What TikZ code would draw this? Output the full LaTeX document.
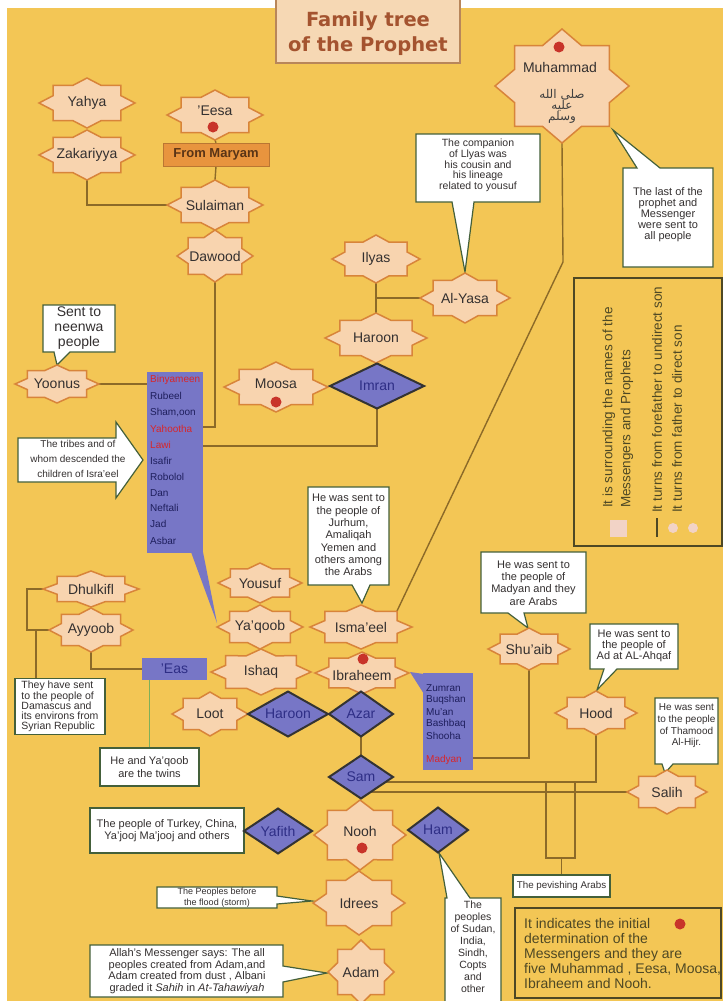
\documentclass[tikz,border=0pt]{standalone}
\usepackage{fontspec}
\setmainfont{Liberation Sans}
\newfontfamily\titlefont{DejaVu Sans}
\newfontfamily\arabicfont[Script=Arabic]{DejaVu Sans}
\TeXXeTstate=1
\usetikzlibrary{shapes.geometric,calc}
\definecolor{bgyellow}{HTML}{F3C655}
\definecolor{starfill}{HTML}{F8D4AF}
\definecolor{stardraw}{HTML}{D8843A}
\definecolor{purp}{HTML}{7776C6}
\definecolor{purptext}{HTML}{2E2E86}
\definecolor{navy}{HTML}{1E1E5C}
\definecolor{linec}{HTML}{8C6A28}
\definecolor{callb}{HTML}{44603A}
\definecolor{txt}{HTML}{343030}
\definecolor{dotred}{HTML}{C8342A}
\definecolor{titlec}{HTML}{A4532F}
\definecolor{titlefill}{HTML}{F6D8B4}
\definecolor{titledraw}{HTML}{B8865A}
\definecolor{olive}{HTML}{4E4824}
\definecolor{paleP}{HTML}{F2D3C6}
\definecolor{maryfill}{HTML}{E8943E}
\definecolor{marytext}{HTML}{5A3416}
\definecolor{greenl}{HTML}{7DB05A}
\definecolor{redt}{HTML}{D8262A}
\pgfdeclarelayer{bgl}\pgfdeclarelayer{linel}\pgfsetlayers{bgl,linel,main}
\tikzset{
  starline/.style={fill=starfill, draw=stardraw, line width=1.5pt, line join=miter},
  anchorshape/.style={shape=diamond, draw=none, inner sep=0pt, outer sep=0pt},
  startext/.style={text=txt, font=\fontsize{14}{16}\selectfont, inner sep=0pt},
  diamshape/.style={shape=diamond, fill=purp, draw=black!80, line width=2pt, inner sep=0pt, outer sep=0pt},
  diamtext/.style={text=purptext, font=\fontsize{14}{16}\selectfont, inner sep=0pt},
  conn/.style={draw=linec, line width=1.4pt},
  callout/.style={fill=white, draw=callb, line width=1.2pt, line join=miter},
  calltext/.style={text=txt, align=center, inner sep=0pt},
  reddot/.style={circle, fill=dotred, inner sep=0pt, minimum size=11pt},
  purpbox/.style={fill=purp, draw=none, inner sep=0pt, outer sep=0pt},
  listtext/.style={text=navy, font=\fontsize{10}{12}\selectfont, inner sep=0pt, anchor=west},
  legtext/.style={text=olive, rotate=90, anchor=west, inner sep=0pt, font=\fontsize{13.5}{15}\selectfont},
}
\newcommand{\pstar}[6]{%
  \draw[starline] plot[samples at={0,22.5,...,337.5}, variable=\t] ({#2+#4*(0.8825+0.1175*cos(8*\t))*cos(\t)}, {#3+#5*(0.8825+0.1175*cos(8*\t))*sin(\t)}) -- cycle;
  \node[anchorshape, minimum width={2*#4}, minimum height={2*#5}] (#1) at (#2,#3) {};
  \node[startext] (#1-t) at (#2,#3) {#6};
}
\newcommand{\pdiam}[6]{%
  \node[diamshape, minimum width={2*#4}, minimum height={2*#5}] (#1) at (#2,#3) {};
  \node[diamtext] (#1-t) at (#1) {#6};
}
\begin{document}
\begin{tikzpicture}[x=1pt,y=-1pt]
\useasboundingbox (0,0) rectangle (723,1001);
\begin{pgfonlayer}{bgl}
\fill[white] (0,0) rectangle (723,1001);
\fill[bgyellow] (7,8) rectangle (723,1001);
\end{pgfonlayer}

% title
\draw[fill=titlefill, draw=titledraw, line width=1.5pt] (276,-5) rectangle (460,63);
\node[text=titlec, font=\titlefont\bfseries\fontsize{19.5}{25}\selectfont, align=center, inner sep=0pt] (title) at (368,33.5) {Family tree\\of the Prophet};

% callouts
\draw[callout] (43,305) -- (115,305) -- (115,352) -- (70,352) -- (57,365) -- (54,352) -- (43,352) -- cycle;
\node[calltext, font=\fontsize{14}{14.7}\selectfont] (c-neen) at (79,328) {Sent to\\neenwa\\people};

\draw[callout] (416,134) -- (540,134) -- (540,202) -- (474,202) -- (465,272) -- (452,202) -- (416,202) -- cycle;
\node[calltext, font=\fontsize{10.5}{10.7}\selectfont] (c-comp) at (478,165.5) {The companion\\of Llyas was\\his cousin and\\his lineage\\related to yousuf};

\draw[callout] (623,168) -- (637,168) -- (613,130) -- (660,168) -- (713,168) -- (713,267) -- (623,267) -- cycle;
\node[calltext, font=\fontsize{11}{11}\selectfont] (c-last) at (668,215) {The last of the\\prophet and\\Messenger\\were sent to\\all people};

\draw[callout] (308,487) -- (389,487) -- (389,585) -- (370,585) -- (362,603) -- (352,585) -- (308,585) -- cycle;
\node[calltext, font=\fontsize{11}{12.3}\selectfont] (c-jur) at (348.5,535) {He was sent to\\the people of\\Jurhum,\\Amaliqah\\Yemen and\\others among\\the Arabs};

\draw[callout] (481,552) -- (586,552) -- (586,613) -- (524,613) -- (528,628) -- (508,613) -- (481,613) -- cycle;
\node[calltext, font=\fontsize{11}{12.2}\selectfont] (c-mad) at (533.5,583) {He was sent to\\the people of\\Madyan and they\\are Arabs};

\draw[callout] (590,624) -- (678,624) -- (678,669) -- (617,669) -- (597,690) -- (604,669) -- (590,669) -- cycle;
\node[calltext, font=\fontsize{11}{11}\selectfont] (c-ad) at (634,646) {He was sent to\\the people of\\Ad at AL-Ahqaf};

\draw[callout] (655,698) -- (718,698) -- (718,764) -- (673,764) -- (665,773) -- (662,764) -- (655,764) -- cycle;
\node[calltext, font=\fontsize{10}{11.7}\selectfont] (c-tham) at (686.5,726) {He was sent\\to the people\\of Thamood\\Al-Hijr.};

\node[callout, minimum width=90pt, minimum height=54pt, inner sep=2.5pt, align=left, text=txt, font=\fontsize{10.5}{10.2}\selectfont] (c-dam) at (60,706.5) {They have sent\\to the people of\\Damascus and\\its environs from\\Syrian Republic};

\node[callout, minimum width=99pt, minimum height=38pt, inner sep=0pt, align=center, text=txt, font=\fontsize{11}{13}\selectfont] (twins) at (149.5,767) {He and Ya'qoob\\are the twins};

\node[callout, minimum width=154pt, minimum height=45pt, inner sep=0pt, align=center, text=txt, font=\fontsize{11}{12}\selectfont] (c-turk) at (167,830.5) {The people of Turkey, China,\\Ya'jooj Ma'jooj and others};

\draw[callout] (157,887) -- (277,887) -- (277,896) -- (312,901) -- (277,904) -- (277,908) -- (157,908) -- cycle;
\node[calltext, font=\fontsize{9}{10.5}\selectfont] (c-flood) at (217,897.5) {The Peoples before\\the flood (storm)};

\draw[callout] (90,945) -- (283,945) -- (283,966) -- (327,973) -- (283,982) -- (283,997) -- (90,997) -- cycle;
\node[calltext, font=\fontsize{11}{11.7}\selectfont] (c-allah) at (187,971) {Allah's Messenger says: The all\\peoples created from Adam,and\\Adam created from dust , Albani\\graded it \textit{Sahih} in \textit{At-Tahawiyah}};

\draw[callout] (445,898) -- (447,898) -- (439,853) -- (470,898) -- (501,898) -- (501,1012) -- (445,1012) -- cycle;
\node[calltext, font=\fontsize{10.5}{12}\selectfont, anchor=north] (c-ham) at (473,901) {The\\peoples\\of Sudan,\\India,\\Sindh,\\Copts\\and\\other};

\node[callout, minimum width=97pt, minimum height=22pt, inner sep=0pt, text=txt, font=\fontsize{9.8}{11}\selectfont] (pevish) at (561.5,886) {The pevishing Arabs};

\draw[callout] (18,438) -- (116,438) -- (116,422) -- (143,460) -- (116,498) -- (116,482) -- (18,482) -- cycle;
\node[calltext, font=\fontsize{10}{15}\selectfont] (c-arrow) at (78,459) {The tribes and of\\whom descended the\\children of Isra'eel};

% legend
\draw[draw=olive, line width=1.2pt] (574,278) rectangle (722,546);
\node[legtext] (lg1) at (609,508) {It is surrounding the names of the};
\node[legtext] (lg2) at (627,508) {Messengers and Prophets};
\node[legtext] (lg3) at (657,513) {It turns from forefather to undirect son};
\node[legtext] (lg4) at (677,513) {It turns from father to direct son};
\fill[paleP] (610,520) rectangle (627,537);
\draw[olive, line width=1.2pt] (657,518) -- (657,537);
\fill[paleP] (673,528) circle (5);
\fill[paleP] (693,528) circle (5);

% note
\draw[draw=olive, line width=1.5pt] (515,908) rectangle (721,998);
\node[text=olive, align=left, anchor=west, inner sep=0pt, font=\fontsize{14}{15}\selectfont] (note) at (524,953) {It indicates the initial\\determination of the\\Messengers and they are\\five Muhammad , Eesa, Moosa,\\Ibraheem and Nooh.};
\node[reddot] (note-d) at (680,924) {};

% boxes
\node[fill=maryfill, draw=maryfill!80!black, line width=0.6pt, minimum width=106pt, minimum height=23pt, inner sep=0pt, text=marytext, font=\bfseries\fontsize{13}{15}\selectfont] (maryam) at (216,154.5) {From Maryam};

\node[purpbox, minimum width=56pt, minimum height=181pt] (tribes) at (175,462.5) {};
\fill[purp] (191,552) -- (203,552) -- (217,623) -- cycle;
\node[listtext, text=redt] (tr1) at (150,380) {Binyameen};
\node[listtext] (tr2) at (150,396) {Rubeel};
\node[listtext] (tr3) at (150,413) {Sham,oon};
\node[listtext, text=redt] (tr4) at (150,429) {Yahootha};
\node[listtext, text=redt] (tr5) at (150,445) {Lawi};
\node[listtext] (tr6) at (150,461) {Isafir};
\node[listtext] (tr7) at (150,477) {Robolol};
\node[listtext] (tr8) at (150,493) {Dan};
\node[listtext] (tr9) at (150,508) {Neftali};
\node[listtext] (tr10) at (150,524) {Jad};
\node[listtext] (tr11) at (150,541) {Asbar};

\node[purpbox, minimum width=65pt, minimum height=22pt, text=purptext, font=\fontsize{14}{16}\selectfont] (eas) at (174.5,669) {'Eas};

\node[purpbox, minimum width=50pt, minimum height=97pt] (muan) at (448,721.5) {};
\fill[purp] (410,672) -- (424,674) -- (424,694) -- cycle;
\node[listtext] (mu1) at (426,688) {Zumran};
\node[listtext] (mu2) at (426,700) {Buqshan};
\node[listtext] (mu3) at (426,712) {Mu'an};
\node[listtext] (mu4) at (426,724) {Bashbaq};
\node[listtext] (mu5) at (426,736) {Shooha};
\node[listtext, text=redt] (mu6) at (426,760) {Madyan};

% stars
\pstar{yahya}{87}{103}{48}{25}{Yahya}
\pstar{zak}{87}{155}{48}{25}{Zakariyya}
\pstar{eesa}{215}{115}{48}{25}{}
\node[startext] (eesa-l) at (215,111) {'Eesa};
\node[reddot] (eesa-d) at (213,127) {};
\pstar{sul}{215}{205}{48}{25}{Sulaiman}
\pstar{daw}{215}{256}{38}{26}{Dawood}
\pstar{muh}{562}{86}{67}{57}{}
\node[startext] (muh-l) at (560,67) {Muhammad};
\node[reddot] (muh-d) at (559,47) {};
\node[text=black!75, font=\arabicfont\fontsize{12}{11}\selectfont, align=center, inner sep=0pt] (muh-ar) at (562,106) {\beginR صلى الله\endR\\\beginR عليه\endR\\\beginR وسلم\endR};
\pstar{ilyas}{376}{259}{44}{24}{Ilyas}
\pstar{alyasa}{465}{298}{45}{25}{Al-Yasa}
\pstar{haroonA}{376}{338}{51}{25}{Haroon}
\pstar{moosa}{276}{387}{52}{25}{}
\node[startext] (moosa-l) at (276,384) {Moosa};
\node[reddot] (moosa-d) at (276,402) {};
\pstar{yoonus}{57}{384}{42}{19}{Yoonus}
\pstar{yousuf}{260}{583}{42}{20}{Yousuf}
\pstar{yaqoob}{260}{627}{43}{22}{Ya'qoob}
\pstar{ishaq}{261}{672}{50}{23}{Ishaq}
\pstar{isma}{361}{627}{51}{22}{Isma'eel}
\pstar{ibra}{362}{673}{47}{21}{}
\node[startext] (ibra-l) at (362,675) {Ibraheem};
\node[reddot] (ibra-d) at (363,659) {};
\pstar{dhul}{91}{589}{48}{18}{Dhulkifl}
\pstar{ayy}{91}{630}{42}{22}{Ayyoob}
\pstar{loot}{210}{714}{38}{22}{Loot}
\pstar{shuaib}{529}{649}{41}{21}{Shu'aib}
\pstar{hood}{596}{713}{41}{22}{Hood}
\pstar{salih}{667}{792}{40}{22}{Salih}
\pstar{nooh}{360}{835}{46}{35}{}
\node[startext] (nooh-l) at (360,831) {Nooh};
\node[reddot] (nooh-d) at (362,848) {};
\pstar{idrees}{359}{903}{46}{32}{Idrees}
\pstar{adam}{361}{972}{33}{32}{Adam}

% diamonds
\pdiam{imran}{377}{386}{47}{22.5}{Imran}
\pdiam{haroonB}{288}{714}{40}{22.5}{Haroon}
\pdiam{azar}{361}{714}{32}{22.5}{Azar}
\pdiam{sam}{361}{777}{32}{21.5}{Sam}
\pdiam{yafith}{278}{831}{34}{22.5}{Yafith}
\pdiam{ham}{438}{830}{30}{22.5}{Ham}

% connectors
\begin{pgfonlayer}{linel}
\draw[conn] (zak.south) |- (sul.west);
\draw[conn] (eesa.south) -- (maryam.north);
\draw[conn] (maryam.south) -- (sul.north);
\coordinate (trD) at ($(tribes.north east)+(0,55)$);
\coordinate (trI) at ($(tribes.north east)+(0,74)$);
\draw[conn] (daw.south) |- (trD);
\draw[conn] (imran.south) |- (trI);
\draw[conn] (yoonus.east) -- (yoonus.east -| tribes.west);
\draw[conn] (ilyas.south) -- (haroonA.north);
\draw[conn] (alyasa.west) -- (alyasa.west -| ilyas.south);
\coordinate (mbend) at (563,262);
\coordinate (mend) at ($(isma.center)+(36,-16)$);
\draw[conn] (muh.south) -- (mbend) -- (mend);
\draw[conn] (dhul.west) -- ++(-16,0) |- (ayy.west);
\coordinate (dstub) at (36,680);
\draw[conn] (dstub) -- (dstub |- ayy.west);
\draw[conn] (ayy.south) |- (eas.west);
\draw[greenl, line width=1.2pt] (twins.north) -- (twins.north |- eas.south);
\draw[conn] (azar.south) -- (sam.north);
\coordinate (muanR) at ($(muan.south east)+(0,-12)$);
\draw[conn] (muanR) -| (shuaib.south);
\coordinate (samA) at ($(sam.center)+(24,5)$);
\coordinate (samB) at ($(sam.center)+(9.5,15)$);
\draw[conn] (samA) -| (hood.south);
\draw[conn] (samB) -- (samB -| salih.west);
\coordinate (pa1) at (546,782);
\coordinate (pa2) at (575,782);
\coordinate (pj) at (561.5,858);
\draw[conn] (pa1) |- (pj) -| (pa2);
\draw[conn] (pj) -- (pevish.north);
\end{pgfonlayer}
\end{tikzpicture}
\end{document}
